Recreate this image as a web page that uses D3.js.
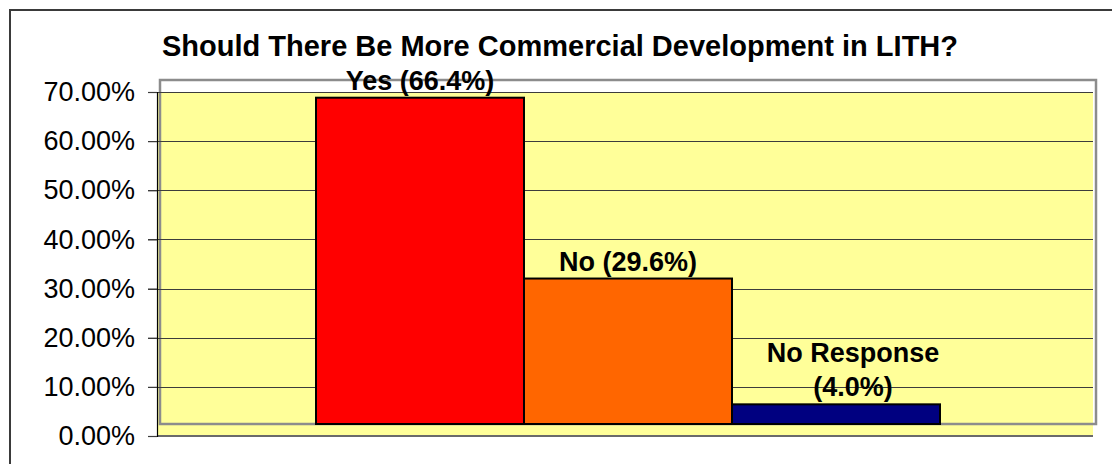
<!DOCTYPE html>
<html>
<head>
<meta charset="utf-8">
<script src="https://cdn.jsdelivr.net/npm/d3@7"></script>
<style>
  html, body { margin: 0; padding: 0; background: #ffffff; }
  svg { display: block; }
  text { font-family: "Liberation Sans", Arial, sans-serif; fill: #000; }
</style>
</head>
<body>
<svg id="chart" width="1112" height="464"></svg>
<script>
// Survey answers and their shares
const categories = ["Yes", "No", "No Response"];
const values = [0.664, 0.296, 0.040];
const barLabels = [["Yes (66.4%)"], ["No (29.6%)"], ["No Response", "(4.0%)"]];
const barColors = ["#FF0000", "#FF6600", "#000080"];
const tickValues = [0, 0.1, 0.2, 0.3, 0.4, 0.5, 0.6, 0.7];
const titleText = "Should There Be More Commercial Development in LITH?";

const svg = d3.select("#chart");

// Front plane of the plot and the depth shift of the back wall
const plot = { left: 157, right: 1093, top: 92, bottom: 436 };
const depth = { dx: 3, dy: -12 };

const y = d3.scaleLinear().domain([0, 0.7]).range([plot.bottom, plot.top]);
const x = d3.scaleBand()
  .domain(categories)
  .range([plot.left + depth.dx, plot.right + depth.dx])
  .paddingInner(0)
  .paddingOuter(0.75);

// Outer chart frame
svg.append("rect")
  .attr("x", 10).attr("y", 10)
  .attr("width", 1120).attr("height", 470)
  .attr("fill", "none")
  .attr("stroke", "#3a3a3a")
  .attr("stroke-width", 2);

// Title
svg.append("text")
  .attr("x", 560).attr("y", 56)
  .attr("text-anchor", "middle")
  .attr("font-size", 29)
  .attr("font-weight", "bold")
  .text(titleText);

// Floor / plot fill
svg.append("rect")
  .attr("x", plot.left).attr("y", plot.top)
  .attr("width", plot.right - plot.left)
  .attr("height", plot.bottom - plot.top)
  .attr("fill", "#FFFF99");

// Back wall outline
svg.append("rect")
  .attr("x", plot.left + depth.dx).attr("y", plot.top + depth.dy)
  .attr("width", plot.right - plot.left)
  .attr("height", plot.bottom - plot.top)
  .attr("fill", "none")
  .attr("stroke", "#8c8c8c")
  .attr("stroke-width", 2.5);

// Horizontal gridlines
svg.append("g")
  .selectAll("line")
  .data(tickValues.filter(d => d > 0))
  .join("line")
  .attr("x1", plot.left - 9).attr("x2", plot.right)
  .attr("y1", d => Math.round(y(d)) + 0.5)
  .attr("y2", d => Math.round(y(d)) + 0.5)
  .attr("stroke", "#3c3c3c")
  .attr("stroke-width", 1.2);

// Category axis baseline
svg.append("line")
  .attr("x1", plot.left).attr("x2", plot.right)
  .attr("y1", plot.bottom).attr("y2", plot.bottom)
  .attr("stroke", "#6a6a6a")
  .attr("stroke-width", 2);

// Bars, drawn on the back wall
svg.append("g")
  .selectAll("rect")
  .data(categories)
  .join("rect")
  .attr("x", d => x(d))
  .attr("y", (d, i) => y(values[i]) + depth.dy)
  .attr("width", x.bandwidth())
  .attr("height", (d, i) => y(0) - y(values[i]))
  .attr("fill", (d, i) => barColors[i])
  .attr("stroke", "#000")
  .attr("stroke-width", 2);

// Value axis
const yAxis = svg.append("g")
  .attr("transform", `translate(${plot.left},0)`)
  .call(d3.axisLeft(y)
    .tickValues(tickValues)
    .tickFormat(d3.format(".2%"))
    .tickSize(9)
    .tickPadding(13));
yAxis.select(".domain").attr("stroke", "#000").attr("stroke-width", 1.2);
yAxis.selectAll(".tick line").attr("stroke", "#3c3c3c").attr("stroke-width", 1.2);
yAxis.selectAll(".tick text")
  .attr("font-size", 27)
  .attr("font-family", "'Liberation Sans', Arial, sans-serif")
  .attr("fill", "#000");

// Bar labels above each bar
const lineHeight = 34;
const labelGroup = svg.append("g");
categories.forEach((c, i) => {
  const lines = barLabels[i];
  const shift = lines.length > 1 ? 17 : 0;
  const baseY = y(values[i]) + depth.dy - 8;
  const t = labelGroup.append("text")
    .attr("text-anchor", "middle")
    .attr("font-size", 27)
    .attr("font-weight", "bold");
  lines.forEach((ln, k) => {
    t.append("tspan")
      .attr("x", x(c) + x.bandwidth() / 2 + shift)
      .attr("y", baseY - (lines.length - 1 - k) * lineHeight)
      .text(ln);
  });
});
</script>
</body>
</html>
